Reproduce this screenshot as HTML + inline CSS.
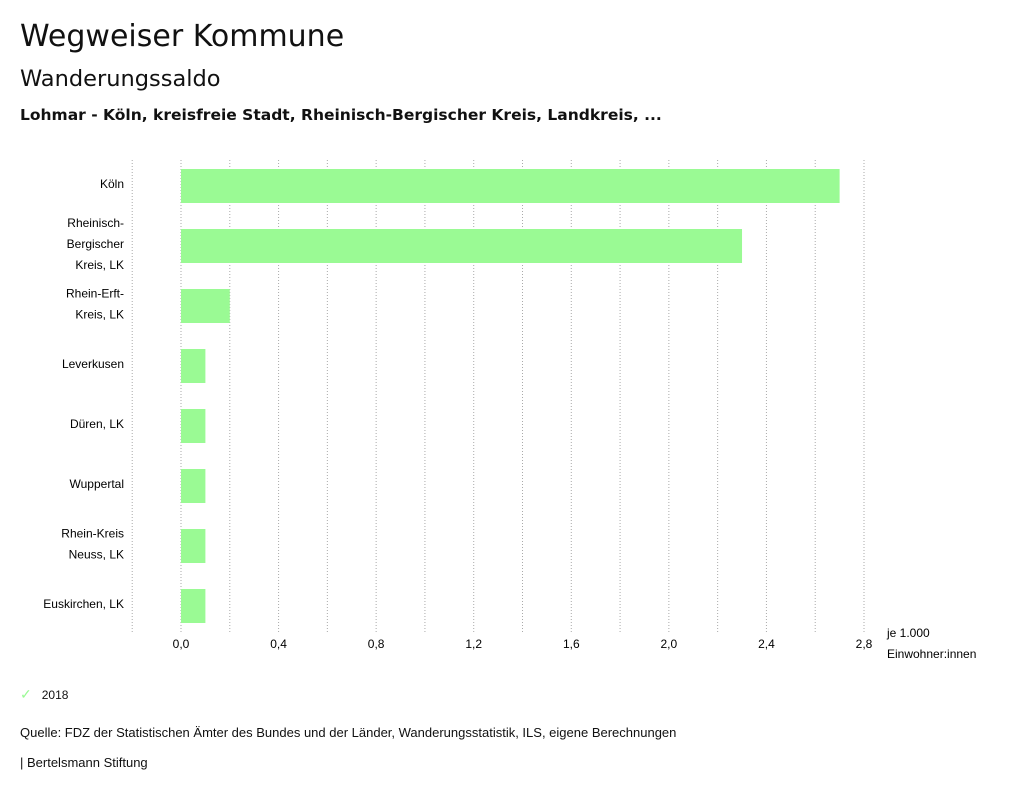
<!DOCTYPE html>
<html><head><meta charset="utf-8"><style>
body{margin:0;width:1024px;height:797px;background:#fff;font-family:"Liberation Sans",sans-serif;color:#111;overflow:hidden;position:relative}
.t{position:absolute;white-space:nowrap}
.h{font-family:"DejaVu Sans",sans-serif}
</style></head><body>
<div class="t h" style="left:20px;top:19px;font-size:30px">Wegweiser Kommune</div>
<div class="t h" style="left:20px;top:66px;font-size:22.5px">Wanderungssaldo</div>
<div class="t h" style="left:20px;top:106px;font-size:15.5px;font-weight:bold">Lohmar - Köln, kreisfreie Stadt, Rheinisch-Bergischer Kreis, Landkreis, ...</div>
<svg id="chart" width="1024" height="797" style="position:absolute;left:0;top:0" font-family="Liberation Sans, sans-serif" font-size="12"></svg>
<div class="t" style="left:20px;top:686px;font-size:12px"><span style="color:#9afa94;font-size:14px">✓</span>&nbsp;&nbsp;&nbsp;2018</div>
<div class="t" style="left:20px;top:725px;font-size:13px">Quelle: FDZ der Statistischen Ämter des Bundes und der Länder, Wanderungsstatistik, ILS, eigene Berechnungen</div>
<div class="t" style="left:20px;top:755px;font-size:13px">| Bertelsmann Stiftung</div>
<script>
const categories=[["Köln"],["Rheinisch-","Bergischer","Kreis, LK"],["Rhein-Erft-","Kreis, LK"],["Leverkusen"],["Düren, LK"],["Wuppertal"],["Rhein-Kreis","Neuss, LK"],["Euskirchen, LK"]];
const values2018=[2.7,2.3,0.2,0.1,0.1,0.1,0.1,0.1];
const tickValues=[0,0.4,0.8,1.2,1.6,2.0,2.4,2.8];
const tickLabels=["0,0","0,4","0,8","1,2","1,6","2,0","2,4","2,8"];
const svg=document.getElementById('chart');
const NS='http://www.w3.org/2000/svg';
const x=v=>181+v*(683/2.8);
const rowY=i=>156+i*60;
function el(t,a){const e=document.createElementNS(NS,t);for(const k in a)e.setAttribute(k,a[k]);svg.appendChild(e);return e;}
for(let g=-0.2;g<=2.81;g+=0.2){
 const l=el('line',{x1:x(g),x2:x(g),y1:160,y2:632,stroke:'#aaa','stroke-dasharray':'1,2'});
 
 
}
tickValues.forEach((v,i)=>{
 const t=el('text',{x:x(v),y:648,'text-anchor':'middle'});t.textContent=tickLabels[i];
 
 
});
const u1=el('text',{x:887,y:637});u1.textContent='je 1.000';


const u2=el('text',{x:887,y:658});u2.textContent='Einwohner:innen';


categories.forEach((c,i)=>{
 const cy=rowY(i)+30;
 const b=el('rect',{x:x(0),y:cy-17,width:x(values2018[i])-x(0),height:34,fill:'#9afa94'});
 
 
 const n=c.length;
 c.forEach((line,j)=>{
  const t=el('text',{x:124,y:cy+2+(j-(n-1)/2)*21,'text-anchor':'end'});t.textContent=line;
  
  
 });
});
</script>
</body></html>
